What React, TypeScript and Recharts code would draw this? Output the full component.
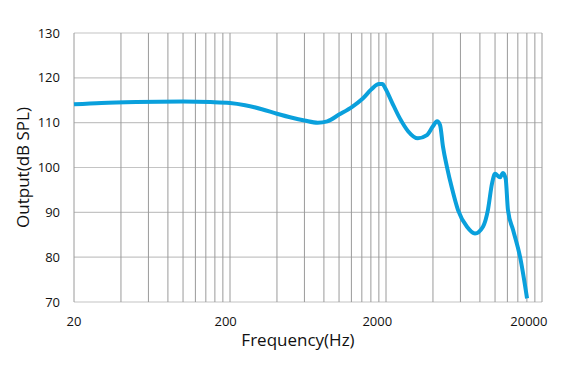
import React from 'react';
import { LineChart, Line, XAxis, YAxis, CartesianGrid } from 'recharts';

const freqs = [
  20, 30, 50, 100, 150, 200, 250, 320, 400, 500, 600, 730, 840, 1000, 1220, 1420, 1620, 1800, 1900,
  1970, 2180, 2460, 2770, 3200, 3660, 4000, 4250, 4440, 4640, 4920, 5300, 5790, 6610, 7440, 8370,
  9000, 9560, 10000, 10760, 11240, 11700, 12100, 13040, 14460, 16040,
];
const output = [
  114.1, 114.4, 114.6, 114.7, 114.6, 114.4, 113.9, 113.0, 112.0, 111.1, 110.5, 110.0, 110.3, 111.8,
  113.6, 115.4, 117.5, 118.6, 118.6, 117.8, 114.6, 110.9, 108.1, 106.5, 107.2, 109.2, 110.3, 109.5,
  104.6, 100.1, 95.3, 90.5, 86.8, 85.3, 86.8, 90.5, 96.4, 98.6, 97.8, 98.8, 97.5, 90.5, 86.1, 80.1,
  70.8,
];
const decades = [20, 200, 2000];
const yTicks = [70, 80, 90, 100, 110, 120, 130];
const labelTicks = [20, 200, 2000, 20000];

const gridTicks: number[] = [];
decades.forEach((d) => {
  for (let k = 1; k < 10; k++) gridTicks.push(d * k);
});
gridTicks.push(20000);

const data = freqs.map((f, i) => ({ freq: f, spl: output[i] }));

const FONT = '"Open Sans", "Noto Sans", sans-serif';

function FreqTick(props: any) {
  const { x, y, payload } = props;
  if (!labelTicks.includes(payload.value)) return null;
  const shift = -(x - 74) * 0.028;
  return (
    <text x={x + shift} y={y + 16} textAnchor="middle" fontSize={13} fill="#111" fontFamily={FONT}>
      {payload.value}
    </text>
  );
}

export default function App() {
  return (
    <div style={{ position: 'absolute', left: 0, top: 0, width: 571, height: 378, background: '#fff' }}>
      <LineChart width={571} height={378} data={data} margin={{ top: 33, right: 29, bottom: 0, left: 0 }}>
        <CartesianGrid horizontal={true} vertical={false} stroke="#c4c4c4" strokeWidth={1.2} />
        <CartesianGrid horizontal={false} vertical={true} stroke="#9a9a9a" strokeWidth={1} />
        <XAxis
          dataKey="freq"
          type="number"
          scale="log"
          domain={[20, 20000]}
          ticks={gridTicks}
          interval={0}
          tick={<FreqTick />}
          tickLine={false}
          axisLine={false}
          height={76}
          label={{
            value: 'Frequency(Hz)',
            position: 'insideBottom',
            offset: 32,
            dx: -10,
            style: { fontSize: 17, fill: '#111', fontFamily: FONT },
          }}
        />
        <YAxis
          type="number"
          domain={[70, 130]}
          ticks={yTicks}
          interval={0}
          width={74}
          tickLine={false}
          axisLine={false}
          tickMargin={8}
          tick={{ fontSize: 13, fill: '#111', fontFamily: FONT }}
          label={{
            value: 'Output(dB SPL)',
            angle: -90,
            position: 'insideLeft',
            offset: 23,
            style: { fontSize: 17, fill: '#111', fontFamily: FONT, textAnchor: 'middle' },
          }}
        />
        <Line
          type="monotone"
          dataKey="spl"
          stroke="#0aa0dc"
          strokeWidth={4}
          dot={false}
          isAnimationActive={false}
        />
      </LineChart>
    </div>
  );
}
